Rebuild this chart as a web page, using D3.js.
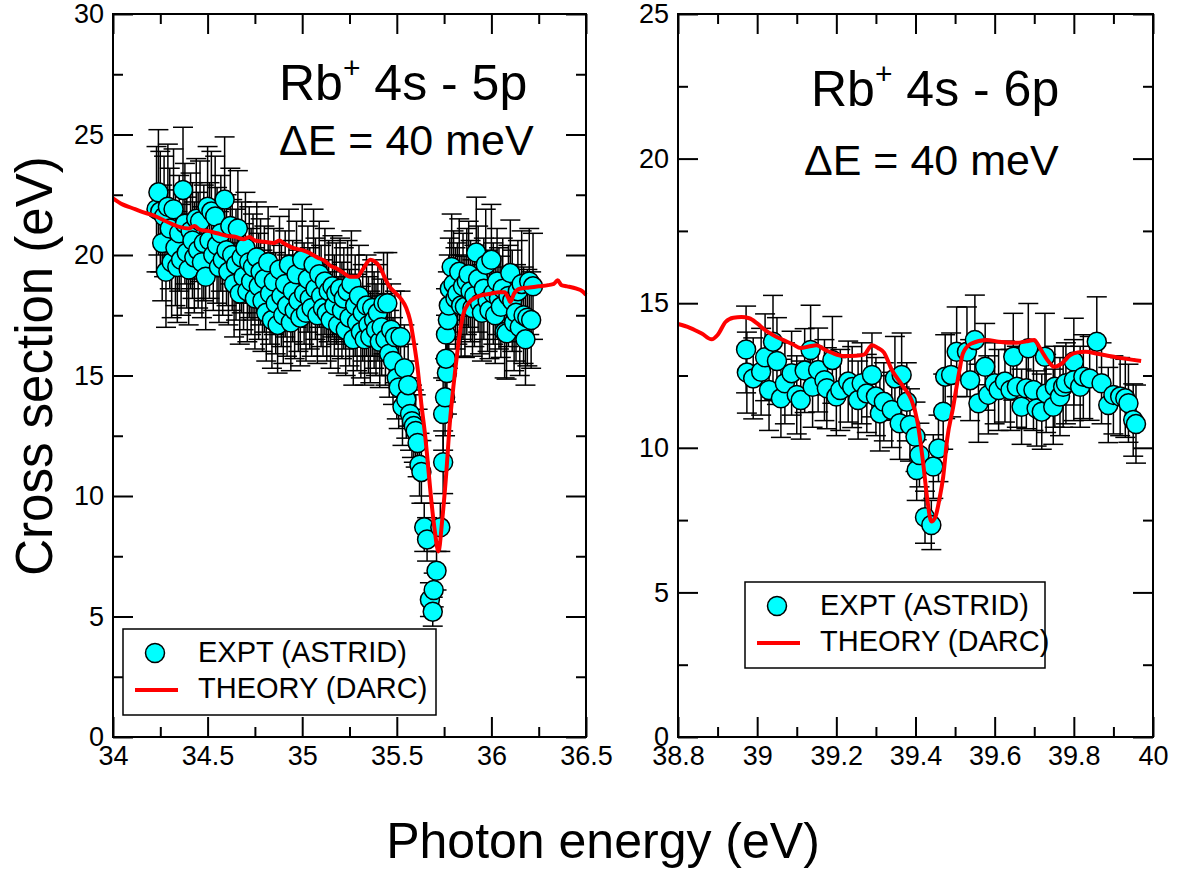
<!DOCTYPE html>
<html>
<head>
<meta charset="utf-8">
<script src="https://cdn.jsdelivr.net/npm/d3@7"></script>
<style>
  body { margin: 0; background: #fff; }
  svg { font-family: "Liberation Sans", Arial, Helvetica, sans-serif; }
</style>
</head>
<body>
<div id="my_dataviz"></div>
<script>
// ---- data: [photon energy, cross section, error] ----
const expt5p = [
  [34.23,21.9,2.6],[34.24,22.6,2.6],[34.25,21.8,2.5],[34.26,20.5,2.4],[34.27,21.6,2.5],[34.28,19.3,2.3],
  [34.29,22.0,2.6],[34.30,21.1,2.5],[34.31,19.7,2.3],[34.32,21.9,2.5],[34.33,20.3,2.4],[34.34,19.5,2.3],
  [34.35,20.9,2.4],[34.36,19.8,2.3],[34.37,22.7,2.6],[34.38,21.3,2.5],[34.39,20.1,2.3],[34.40,19.4,2.3],
  [34.41,21.0,2.4],[34.42,20.6,2.4],[34.43,19.9,2.3],[34.44,21.5,2.5],[34.45,20.2,2.4],[34.46,21.4,2.5],
  [34.47,19.7,2.3],[34.48,20.5,2.4],[34.49,19.1,2.2],[34.50,22.0,2.5],[34.51,20.6,2.4],[34.52,21.8,2.5],
  [34.53,20.0,2.3],[34.54,21.6,2.5],[34.55,20.4,2.4],[34.56,19.5,2.3],[34.57,20.9,2.4],[34.58,19.8,2.3],
  [34.59,22.3,2.6],[34.60,20.2,2.3],[34.61,19.3,2.2],[34.62,21.2,2.4],[34.63,20.0,2.3],[34.64,18.8,2.2],
  [34.65,19.6,2.3],[34.66,21.1,2.4],[34.67,18.4,2.1],[34.68,19.9,2.3],[34.69,19.1,2.2],[34.70,20.3,2.3],
  [34.71,18.5,2.1],[34.72,19.7,2.3],[34.73,18.9,2.2],[34.74,19.5,2.2],[34.75,18.2,2.1],[34.76,19.9,2.3],
  [34.77,18.7,2.2],[34.78,19.3,2.2],[34.79,18.1,2.1],[34.80,19.0,2.2],[34.81,17.6,2.0],[34.82,19.7,2.3],
  [34.83,18.4,2.1],[34.84,17.3,2.0],[34.85,18.9,2.2],[34.86,18.0,2.1],[34.87,17.1,2.0],[34.88,19.4,2.2],
  [34.89,18.3,2.1],[34.90,17.5,2.0],[34.91,18.8,2.2],[34.92,17.9,2.1],[34.93,19.6,2.3],[34.94,17.2,2.0],
  [34.95,18.5,2.1],[34.96,17.7,2.0],[34.97,19.2,2.2],[34.98,18.1,2.1],[34.99,17.4,2.0],[35.00,19.8,2.3],
  [35.01,18.4,2.1],[35.02,17.6,2.0],[35.03,19.0,2.2],[35.04,18.2,2.1],[35.05,17.8,2.0],[35.06,19.6,2.3],
  [35.07,18.6,2.1],[35.08,17.5,2.0],[35.09,19.2,2.2],[35.10,18.3,2.1],[35.11,17.8,2.0],[35.12,18.9,2.2],
  [35.13,17.6,2.0],[35.14,18.5,2.1],[35.15,17.3,2.0],[35.16,18.7,2.1],[35.17,17.9,2.1],[35.18,18.4,2.1],
  [35.19,17.1,2.0],[35.20,18.6,2.1],[35.21,17.7,2.0],[35.22,18.2,2.1],[35.23,16.9,1.9],[35.24,18.5,2.1],
  [35.25,17.4,2.0],[35.26,18.8,2.2],[35.27,16.5,1.9],[35.28,17.9,2.1],[35.29,17.2,2.0],[35.30,18.3,2.1],
  [35.31,16.8,1.9],[35.32,17.6,2.0],[35.33,16.5,1.9],[35.34,17.9,2.1],[35.35,17.1,2.0],[35.36,16.6,1.9],
  [35.37,17.8,2.0],[35.38,17.3,2.0],[35.39,16.9,1.9],[35.40,17.6,2.0],[35.41,16.4,1.9],[35.42,17.0,2.0],
  [35.43,18.0,2.1],[35.44,16.5,1.9],[35.45,18.0,2.1],[35.46,15.9,1.8],[35.47,16.9,1.9],[35.48,15.6,1.8],
  [35.49,16.6,1.9],[35.50,14.9,1.7],[35.51,14.5,1.7],[35.52,16.6,1.9],[35.53,13.7,1.6],[35.54,15.3,1.8],
  [35.55,14.0,1.6],[35.56,14.6,1.7],[35.57,13.4,1.5],[35.58,13.1,1.5],[35.59,12.9,1.5],[35.60,12.7,1.5],
  [35.61,12.2,1.4],[35.62,11.3,1.3],[35.63,11.0,1.3],[35.645,8.7,1.0],[35.66,8.2,0.9],[35.675,5.7,0.7],
  [35.69,5.2,0.6],[35.695,6.1,0.7],[35.71,6.9,0.8],[35.73,8.7,1.0],[35.745,11.4,1.3],[35.745,13.4,1.5],
  [35.755,14.1,1.6],[35.765,15.1,1.7],[35.76,15.7,1.8],[35.76,16.7,1.9],[35.77,17.3,2.0],[35.775,17.9,2.1],
  [35.78,18.6,2.1],[35.79,19.5,2.2],[35.80,18.8,2.2],[35.81,18.2,2.1],[35.82,18.4,2.1],[35.83,19.3,2.2],
  [35.84,17.9,2.1],[35.85,18.7,2.2],[35.86,17.85,2.1],[35.87,18.9,2.2],[35.88,19.2,2.2],[35.89,18.5,2.1],
  [35.90,17.8,2.0],[35.91,18.3,2.1],[35.92,20.1,2.3],[35.93,19.0,2.2],[35.94,18.0,2.1],[35.95,17.6,2.0],
  [35.96,18.6,2.1],[35.97,19.6,2.3],[35.98,18.1,2.1],[35.99,17.7,2.0],[36.00,19.8,2.3],[36.01,18.4,2.1],
  [36.02,17.5,2.0],[36.03,18.9,2.2],[36.04,18.2,2.1],[36.05,17.85,2.1],[36.06,18.6,2.1],[36.07,16.8,1.9],
  [36.08,16.75,1.9],[36.09,18.3,2.1],[36.10,19.25,2.2],[36.11,18.1,2.1],[36.12,17.2,2.0],[36.13,17.6,2.0],
  [36.14,18.5,2.1],[36.15,17.0,2.0],[36.16,18.8,2.2],[36.17,17.5,2.0],[36.18,16.5,1.9],[36.19,17.4,2.0],
  [36.20,18.9,2.2],[36.21,17.3,2.0],[36.22,18.7,2.2]
];

const theory5p = [
  [34.00,22.35],[34.05,22.1],[34.10,21.95],[34.15,21.8],[34.21,21.65],[34.28,21.4],[34.35,21.17],
  [34.40,21.1],[34.43,21.2],[34.46,21.05],[34.50,21.0],[34.55,20.9],[34.60,20.8],[34.65,20.75],
  [34.69,20.65],[34.72,20.75],[34.75,20.6],[34.80,20.55],[34.85,20.5],[34.88,20.6],[34.90,20.5],
  [34.95,20.3],[35.00,20.2],[35.04,20.08],[35.08,19.9],[35.12,19.75],[35.15,19.55],[35.18,19.45],
  [35.22,19.25],[35.25,19.1],[35.29,19.1],[35.32,19.4],[35.36,19.8],[35.38,19.75],[35.41,19.5],
  [35.44,19.0],[35.46,18.7],[35.49,18.45],[35.52,18.2],[35.55,17.8],[35.57,17.3],[35.59,16.4],
  [35.61,15.3],[35.63,13.8],[35.65,12.5],[35.66,11.7],[35.68,10.0],[35.70,8.6],[35.72,7.7],
  [35.74,9.0],[35.76,10.8],[35.78,13.0],[35.80,14.6],[35.81,15.3],[35.83,16.6],[35.85,17.5],
  [35.88,18.0],[35.92,18.25],[35.96,18.35],[36.00,18.4],[36.04,18.45],[36.07,18.45],[36.09,18.2],
  [36.10,18.05],[36.12,18.4],[36.15,18.6],[36.20,18.65],[36.25,18.7],[36.30,18.75],[36.33,18.8],
  [36.35,18.95],[36.37,18.75],[36.40,18.7],[36.45,18.6],[36.48,18.5],[36.50,18.35]
];

const expt6p = [
  [38.972,13.4,1.5],[38.974,12.6,1.4],[38.99,12.4,1.4],[39.01,12.63,1.5],[39.02,13.13,1.5],[39.03,12.0,1.4],
  [39.04,13.67,1.6],[39.05,13.0,1.5],[39.06,11.71,1.35],[39.07,12.23,1.4],[39.087,12.58,1.45],[39.10,11.83,1.35],
  [39.11,11.65,1.35],[39.12,12.67,1.45],[39.135,13.38,1.55],[39.14,12.11,1.4],[39.154,12.69,1.45],[39.17,12.34,1.4],
  [39.176,12.06,1.4],[39.19,13.04,1.5],[39.20,11.77,1.35],[39.21,12.0,1.4],[39.23,12.29,1.4],[39.24,12.1,1.4],
  [39.255,11.65,1.35],[39.264,12.23,1.4],[39.277,11.88,1.35],[39.29,12.52,1.45],[39.30,11.77,1.35],[39.31,11.19,1.3],
  [39.32,11.59,1.35],[39.34,11.31,1.3],[39.348,12.4,1.45],[39.36,10.85,1.25],[39.365,12.52,1.45],[39.378,11.59,1.35],
  [39.386,10.79,1.25],[39.40,10.38,1.2],[39.403,9.23,1.05],[39.41,9.75,1.1],[39.424,7.6,0.9],[39.44,7.33,0.85],
  [39.445,9.35,1.1],[39.458,9.98,1.15],[39.47,11.25,1.3],[39.475,12.46,1.45],[39.49,12.52,1.45],[39.504,13.32,1.55],
  [39.53,13.32,1.55],[39.538,12.34,1.4],[39.55,13.73,1.55],[39.559,11.54,1.35],[39.576,12.8,1.5],[39.584,11.83,1.35],
  [39.60,12.23,1.4],[39.61,12.0,1.4],[39.626,12.29,1.4],[39.64,12.0,1.4],[39.647,13.15,1.5],[39.656,12.11,1.4],
  [39.668,11.42,1.3],[39.68,12.06,1.4],[39.685,13.44,1.55],[39.698,12.0,1.4],[39.706,11.36,1.3],[39.719,11.25,1.3],
  [39.727,13.15,1.5],[39.73,11.88,1.35],[39.748,11.42,1.3],[39.752,12.11,1.4],[39.765,11.77,1.35],[39.773,12.11,1.4],
  [39.78,12.23,1.4],[39.80,12.98,1.5],[39.80,12.34,1.4],[39.816,12.11,1.4],[39.824,12.46,1.45],[39.84,12.4,1.45],
  [39.858,13.67,1.55],[39.87,12.23,1.4],[39.887,11.48,1.3],[39.90,11.83,1.35],[39.917,11.77,1.35],[39.93,11.71,1.35],
  [39.938,11.54,1.35],[39.95,10.96,1.25],[39.957,10.82,1.35]
];

const theory6p = [
  [38.80,14.28],[38.83,14.15],[38.86,13.95],[38.885,13.75],[38.90,13.9],[38.92,14.35],[38.94,14.5],
  [38.96,14.52],[38.98,14.48],[39.00,14.3],[39.02,14.07],[39.04,13.9],[39.065,13.73],[39.09,13.58],
  [39.11,13.45],[39.13,13.5],[39.15,13.55],[39.17,13.4],[39.19,13.28],[39.22,13.17],[39.25,13.18],
  [39.27,13.22],[39.29,13.55],[39.305,13.45],[39.32,13.3],[39.34,12.7],[39.37,12.1],[39.39,11.65],
  [39.405,10.9],[39.42,9.4],[39.43,8.2],[39.44,7.45],[39.45,7.6],[39.46,8.2],[39.47,9.0],[39.48,10.3],
  [39.495,11.4],[39.51,12.6],[39.52,13.27],[39.54,13.6],[39.58,13.73],[39.61,13.67],[39.655,13.63],
  [39.68,13.68],[39.70,13.73],[39.71,13.55],[39.72,13.32],[39.735,13.0],[39.75,12.8],[39.77,12.92],
  [39.79,13.2],[39.81,13.3],[39.83,13.32],[39.86,13.25],[39.88,13.2],[39.92,13.1],[39.97,13.0]
];

// tick values
const xTicks5p = [34, 34.5, 35, 35.5, 36, 36.5];
const xMinor5p = [34.25, 34.75, 35.25, 35.75, 36.25];
const yTicks5p = [0, 5, 10, 15, 20, 25, 30];
const yMinor5p = [2.5, 7.5, 12.5, 17.5, 22.5, 27.5];
const xTicks6p = [38.8, 39, 39.2, 39.4, 39.6, 39.8, 40];
const xMinor6p = [38.9, 39.1, 39.3, 39.5, 39.7, 39.9];
const yTicks6p = [0, 5, 10, 15, 20, 25];
const yMinor6p = [2.5, 7.5, 12.5, 17.5, 22.5];

const legendLabels = ["EXPT (ASTRID)", "THEORY (DARC)"];

const W = 1178, H = 872;
const svg = d3.select("#my_dataviz")
  .append("svg")
    .attr("width", W)
    .attr("height", H);

const fmt = d => String(+d.toFixed(2));

function panel(opt) {
  const x = d3.scaleLinear().domain(opt.xdom).range([opt.left, opt.right]);
  const y = d3.scaleLinear().domain(opt.ydom).range([737, 14]);
  const g = svg.append("g");

  // error bars (drawn first, symbols go over them)
  const eb = g.append("g").attr("stroke", "#000").attr("stroke-width", 1.5).attr("fill", "none");
  opt.expt.forEach(function(d) {
    const xc = x(d[0]), y0 = y(d[1] - d[2]), y1 = y(d[1] + d[2]);
    eb.append("line").attr("x1", xc).attr("x2", xc).attr("y1", y0).attr("y2", y1);
    eb.append("line").attr("x1", xc - 10).attr("x2", xc + 10).attr("y1", y0).attr("y2", y0);
    eb.append("line").attr("x1", xc - 10).attr("x2", xc + 10).attr("y1", y1).attr("y2", y1);
  });

  g.append("g")
    .selectAll("circle")
    .data(opt.expt)
    .enter().append("circle")
      .attr("cx", d => x(d[0]))
      .attr("cy", d => y(d[1]))
      .attr("r", 9.5)
      .attr("fill", "#00ffff")
      .attr("stroke", "#000")
      .attr("stroke-width", 1.5);

  g.append("path")
    .datum(opt.theory)
    .attr("d", d3.line().x(d => x(d[0])).y(d => y(d[1])).curve(d3.curveMonotoneX))
    .attr("fill", "none")
    .attr("stroke", "#ff0000")
    .attr("stroke-width", 4)
    .attr("stroke-linejoin", "round");

  // frame + inward ticks on all sides
  function styleAxis(a) {
    a.select(".domain").remove();
    a.selectAll("line").attr("stroke", "#000").attr("stroke-width", 2);
    a.selectAll("text").attr("font-size", 27).attr("fill", "#000").attr("font-family", null);
  }
  const axes = [
    [d3.axisBottom(x), "translate(0,737)", opt.xticks, opt.xminor, true],
    [d3.axisTop(x), "translate(0,14)", opt.xticks, opt.xminor, false],
    [d3.axisLeft(y), `translate(${opt.left},0)`, opt.yticks, opt.yminor, true],
    [d3.axisRight(y), `translate(${opt.right},0)`, opt.yticks, opt.yminor, false]
  ];
  axes.forEach(function(a) {
    const ax = a[0];
    g.append("g").attr("transform", a[1])
      .call(ax.tickValues(a[3]).tickSize(-10).tickFormat(""))
      .call(styleAxis);
    g.append("g").attr("transform", a[1])
      .call(ax.tickValues(a[2]).tickSize(-20).tickPadding(9).tickFormat(a[4] ? fmt : ""))
      .call(styleAxis);
  });

  g.append("rect")
    .attr("x", opt.left).attr("y", 14)
    .attr("width", opt.right - opt.left).attr("height", 723)
    .attr("fill", "none").attr("stroke", "#000").attr("stroke-width", 2);

  // titles
  const t = g.append("text").attr("x", opt.tx).attr("y", opt.ty).attr("font-size", 50);
  t.append("tspan").text("Rb");
  t.append("tspan").attr("font-size", 30).attr("dy", -22).text("+");
  t.append("tspan").attr("dy", 22).text(" 4s - " + opt.level);
  g.append("text").attr("x", opt.dx).attr("y", opt.dy).attr("font-size", 43).text("\u0394E = 40 meV");

  // legend
  const lg = g.append("g").attr("transform", `translate(${opt.lx},${opt.ly})`);
  lg.append("rect").attr("width", opt.lw).attr("height", 86)
    .attr("fill", "#fff").attr("stroke", "#000").attr("stroke-width", 1.5);
  lg.append("circle").attr("cx", 32).attr("cy", 24).attr("r", 9.5)
    .attr("fill", "#00ffff").attr("stroke", "#000").attr("stroke-width", 1.5);
  lg.append("line").attr("x1", 12).attr("x2", 55).attr("y1", 61).attr("y2", 61)
    .attr("stroke", "#ff0000").attr("stroke-width", 4);
  lg.selectAll("text.lab")
    .data(legendLabels)
    .enter().append("text")
      .attr("class", "lab")
      .attr("x", 75)
      .attr("y", (d, i) => 33 + i * 36)
      .attr("font-size", 29)
      .text(d => d);
}

panel({
  xdom: [34, 36.5], ydom: [0, 30], left: 113, right: 586,
  expt: expt5p, theory: theory5p,
  xticks: xTicks5p, xminor: xMinor5p, yticks: yTicks5p, yminor: yMinor5p,
  level: "5p", tx: 279, ty: 100, dx: 279, dy: 155,
  lx: 123, ly: 629, lw: 313
});

panel({
  xdom: [38.8, 40], ydom: [0, 25], left: 678, right: 1153,
  expt: expt6p, theory: theory6p,
  xticks: xTicks6p, xminor: xMinor6p, yticks: yTicks6p, yminor: yMinor6p,
  level: "6p", tx: 811, ty: 106, dx: 804, dy: 175,
  lx: 745, ly: 582, lw: 300
});

// axis titles
svg.append("text")
  .attr("transform", "translate(52,366) rotate(-90)")
  .attr("text-anchor", "middle")
  .attr("font-size", 51)
  .text("Cross section (eV)");

svg.append("text")
  .attr("x", 603).attr("y", 858)
  .attr("text-anchor", "middle")
  .attr("font-size", 50)
  .text("Photon energy (eV)");
</script>
</body>
</html>
